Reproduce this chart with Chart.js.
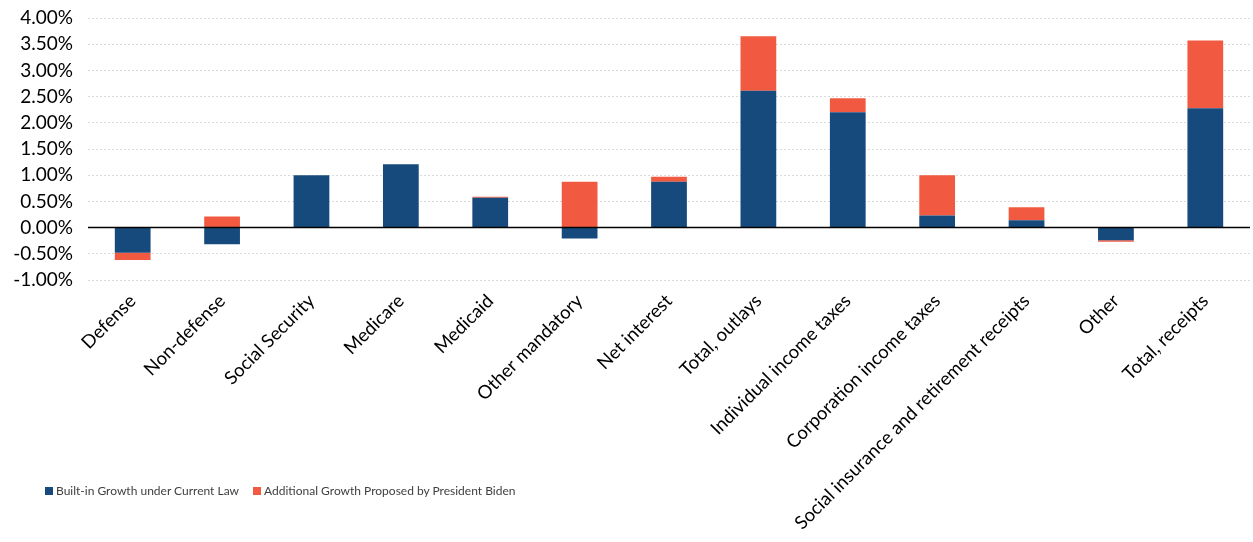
<!DOCTYPE html>
<html>
<head>
<meta charset="utf-8">
<script src="https://cdn.jsdelivr.net/npm/chart.js@4"></script>
<style>
  html, body { margin: 0; padding: 0; background: #fff; }
  #wrap { position: relative; width: 1253px; height: 542px; }
  #legend { position: absolute; left: 45px; top: 483px; font-family: Lato, sans-serif; font-size: 12px; color: #404040; display: flex; }
  #legend span.item { display: flex; align-items: center; margin-right: 14px; }
  #legend span.box { width: 8px; height: 8px; display: inline-block; margin-right: 3px; }
</style>
</head>
<body>
<div id="wrap">
  <canvas id="chart" width="1253" height="542"></canvas>
  <div id="legend"></div>
</div>
<script>
// categories and values (percent)
const categories = ['Defense', 'Non-defense', 'Social Security', 'Medicare', 'Medicaid', 'Other mandatory',
  'Net interest', 'Total, outlays', 'Individual income taxes', 'Corporation income taxes',
  'Social insurance and retirement receipts', 'Other', 'Total, receipts'];
const builtIn = [-0.48, -0.32, 1.00, 1.21, 0.57, -0.21, 0.875, 2.61, 2.20, 0.23, 0.14, -0.24, 2.28];
const additional = [-0.14, 0.21, 0, 0, 0.02, 0.875, 0.095, 1.04, 0.27, 0.77, 0.25, -0.03, 1.29];
const seriesNames = ['Built-in Growth under Current Law', 'Additional Growth Proposed by President Biden'];
const seriesColors = ['#174a7c', '#f15a40'];
const yTicks = [-1, -0.5, 0, 0.5, 1, 1.5, 2, 2.5, 3, 3.5, 4];

const font = 'Lato';

// solid black line at zero
const zeroLine = {
  id: 'zeroLine',
  afterDatasetsDraw(chart) {
    const y = chart.scales.y.getPixelForValue(0);
    const ctx = chart.ctx;
    ctx.save();
    ctx.strokeStyle = '#000';
    ctx.lineWidth = 1.5;
    ctx.beginPath();
    ctx.moveTo(chart.chartArea.left, y);
    ctx.lineTo(chart.chartArea.right, y);
    ctx.stroke();
    ctx.restore();
  }
};

const chart = new Chart(document.getElementById('chart'), {
  type: 'bar',
  data: {
    labels: categories,
    datasets: [
      { label: seriesNames[0], data: builtIn, backgroundColor: seriesColors[0] },
      { label: seriesNames[1], data: additional, backgroundColor: seriesColors[1] }
    ]
  },
  options: {
    responsive: false,
    animation: false,
    layout: { padding: { top: 18, right: 3 } },
    datasets: { bar: { categoryPercentage: 1, barPercentage: 0.4 } },
    scales: {
      x: {
        stacked: true,
        grid: { display: false },
        border: { display: false },
        afterFit: axis => { axis.height = 262; axis.paddingLeft = 0; axis.paddingRight = 0; },
        ticks: {
          minRotation: 45, maxRotation: 45, autoSkip: false, padding: 2,
          color: '#000',
          font: { family: font, size: 18.5 }
        }
      },
      y: {
        stacked: true,
        min: -1, max: 4,
        afterFit: axis => { axis.width = 88; axis.paddingTop = 0; axis.paddingBottom = 0; },
        afterBuildTicks: axis => { axis.ticks = yTicks.map(v => ({ value: v })); },
        border: { display: false, dash: [2, 2] },
        grid: { color: '#d9d9d9', lineWidth: 1, drawTicks: false },
        ticks: {
          autoSkip: false,
          padding: 15,
          color: '#000',
          font: { family: font, size: 19 },
          callback: v => v.toFixed(2) + '%'
        }
      }
    },
    plugins: {
      legend: { display: false },
      tooltip: { enabled: false }
    }
  },
  plugins: [zeroLine]
});

// legend in html, built from the datasets
const legendEl = document.getElementById('legend');
chart.data.datasets.forEach(ds => {
  const item = document.createElement('span');
  item.className = 'item';
  item.innerHTML = '<span class="box" style="background:' + ds.backgroundColor + '"></span>' + ds.label;
  legendEl.appendChild(item);
});
</script>
</body>
</html>
